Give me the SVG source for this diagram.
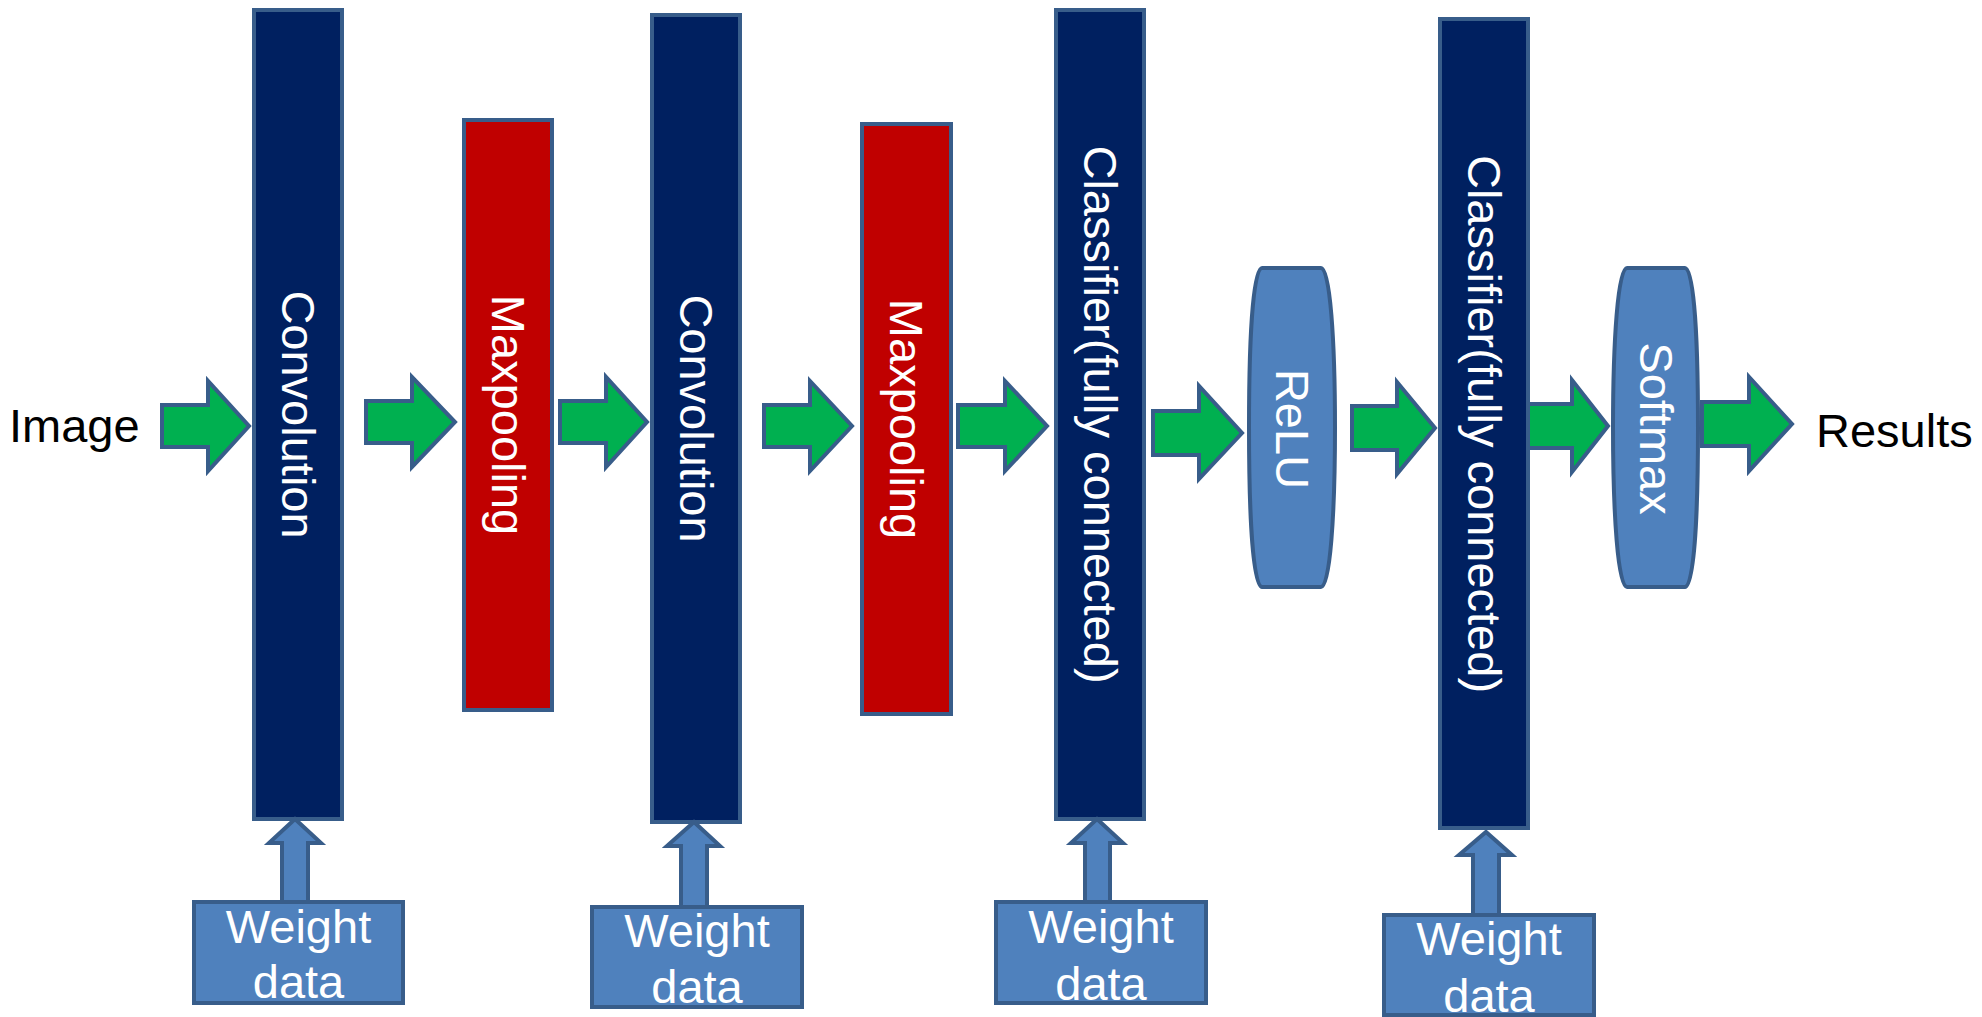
<svg xmlns="http://www.w3.org/2000/svg" width="1982" height="1017" viewBox="0 0 1982 1017">
<style>
  .bar{fill:#002060;stroke:#385D8A;stroke-width:4}
  .pool{fill:#C00000;stroke:#385D8A;stroke-width:4}
  .act{fill:#4F81BD;stroke:#385D8A;stroke-width:4}
  .wd{fill:#4F81BD;stroke:#385D8A;stroke-width:4}
  .green{fill:#00B050;stroke:#385D8A;stroke-width:4;stroke-linejoin:miter}
  .up{fill:#4F81BD;stroke:#385D8A;stroke-width:4;stroke-linejoin:miter}
  text{font-family:"Liberation Sans",Arial,sans-serif;font-size:47px}
  .w{fill:#FFFFFF;text-anchor:middle}
  .k{fill:#000000}
</style>
<rect width="1982" height="1017" fill="#FFFFFF"/>

<g id="image-label"><text class="k" x="9" y="442">Image</text></g>
<g id="results-label"><text class="k" x="1816" y="447">Results</text></g>

<g id="conv1">
  <rect class="bar" x="254" y="10" width="88" height="809"/>
  <text class="w" transform="translate(298,414.5) rotate(90)" y="16.5">Convolution</text>
</g>
<g id="maxpool1">
  <rect class="pool" x="464" y="120" width="88" height="590"/>
  <text class="w" transform="translate(508,415) rotate(90)" y="16.5">Maxpooling</text>
</g>
<g id="conv2">
  <rect class="bar" x="652" y="15" width="88" height="807"/>
  <text class="w" transform="translate(696,418.5) rotate(90)" y="16.5">Convolution</text>
</g>
<g id="maxpool2">
  <rect class="pool" x="862" y="124" width="89" height="590"/>
  <text class="w" transform="translate(906.5,419) rotate(90)" y="16.5">Maxpooling</text>
</g>
<g id="classifier1">
  <rect class="bar" x="1056" y="10" width="88" height="809"/>
  <text class="w" transform="translate(1100,414.5) rotate(90)" y="16.5">Classifier(fully connected)</text>
</g>
<g id="relu">
  <path class="act" d="M1262,268 H1321 C1330,268 1335,340 1335,427.5 C1335,515 1330,587 1321,587 H1262 C1253,587 1249,515 1249,427.5 C1249,340 1253,268 1262,268 Z"/>
  <text class="w" transform="translate(1292,429) rotate(90)" y="16.5">ReLU</text>
</g>
<g id="classifier2">
  <rect class="bar" x="1440" y="19" width="88" height="809"/>
  <text class="w" transform="translate(1484,424) rotate(90)" y="16.5">Classifier(fully connected)</text>
</g>
<g id="softmax">
  <path class="act" d="M1627,268 H1685 C1694,268 1698,340 1698,427.5 C1698,515 1694,587 1685,587 H1627 C1618,587 1613,515 1613,427.5 C1613,340 1618,268 1627,268 Z"/>
  <text class="w" transform="translate(1656,428.5) rotate(90)" y="16.5">Softmax</text>
</g>

<g id="connectors">
  <path class="green" d="M162,405 H208 V381 L249,426 L208,471 V447 H162 Z"/>
  <path class="green" d="M366,401 H412 V377 L455,422 L412,467 V443 H366 Z"/>
  <path class="green" d="M560,401 H606 V377 L647,422 L606,467 V443 H560 Z"/>
  <path class="green" d="M764,405 H810 V381 L852,426 L810,471 V447 H764 Z"/>
  <path class="green" d="M958,405 H1005 V381 L1047,426 L1005,471 V447 H958 Z"/>
  <path class="green" d="M1153,411 H1199 V386 L1242,433 L1199,479 V455 H1153 Z"/>
  <path class="green" d="M1352,406 H1397 V382 L1435,428 L1397,474 V450 H1352 Z"/>
  <path class="green" d="M1528,404 H1572 V380 L1608,426 L1572,472 V448 H1528 Z"/>
  <path class="green" d="M1702,402 H1749 V377 L1792,424 L1749,471 V446 H1702 Z"/>

  <path class="up" d="M282,902 V843 H269 L295,819 L321,843 H308 V902 Z"/>
  <path class="up" d="M681,907 V846 H667 L694,822 L720,846 H707 V907 Z"/>
  <path class="up" d="M1085,902 V843 H1071 L1097,819 L1123,843 H1110 V902 Z"/>
  <path class="up" d="M1473,915 V855 H1459 L1486,832 L1512,855 H1499 V915 Z"/>
</g>

<g id="weight1">
  <rect class="wd" x="194" y="902" width="209" height="101"/>
  <text class="w" x="298.5" y="943">Weight</text>
  <text class="w" x="298.5" y="998">data</text>
</g>
<g id="weight2">
  <rect class="wd" x="592" y="907" width="210" height="100"/>
  <text class="w" x="697" y="947">Weight</text>
  <text class="w" x="697" y="1003">data</text>
</g>
<g id="weight3">
  <rect class="wd" x="996" y="902" width="210" height="101"/>
  <text class="w" x="1101" y="943">Weight</text>
  <text class="w" x="1101" y="1000">data</text>
</g>
<g id="weight4">
  <rect class="wd" x="1384" y="915" width="210" height="100"/>
  <text class="w" x="1489" y="955">Weight</text>
  <text class="w" x="1489" y="1012">data</text>
</g>
</svg>
